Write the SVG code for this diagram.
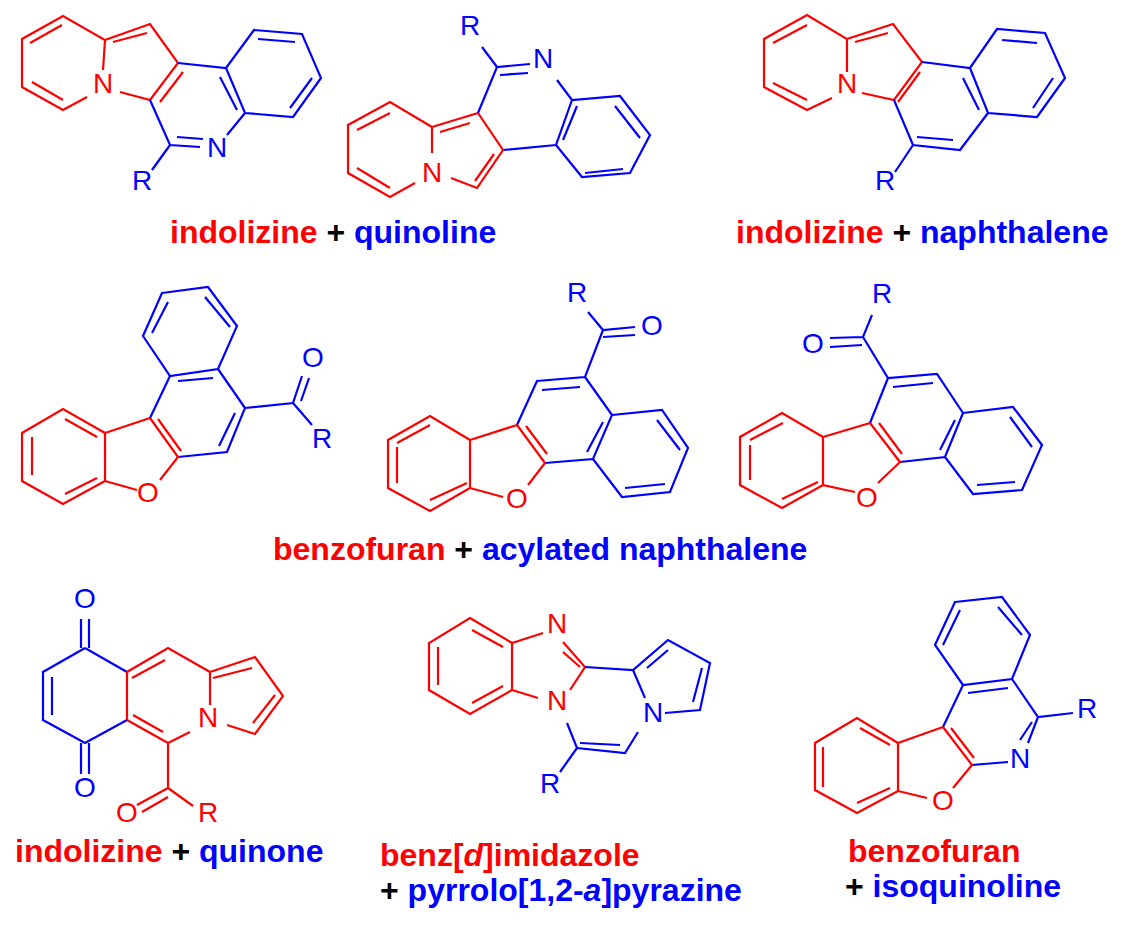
<svg xmlns="http://www.w3.org/2000/svg" width="1130" height="925" viewBox="0 0 1130 925">
<style>
.r{stroke:#ff0000;fill:none;stroke-width:2.2;stroke-linejoin:miter}
.b{stroke:#0000ff;fill:none;stroke-width:2.2;stroke-linejoin:miter}
.a{font-family:"Liberation Sans",Arial,sans-serif;font-size:28px;text-anchor:middle}
.rt{fill:#ff0000}.bt{fill:#0000ff}.kt{fill:#000}
.lab{font-family:"Liberation Sans",Arial,sans-serif;font-size:32px;font-weight:bold}
</style>
<rect width="1130" height="925" fill="#fff"/>
<g id="s1">
<path class="r" d="M87,97 L63,110 L22,87 L22,39 L63,16 L105,40 L103,70 M105,40 L150,24 L178,63 L150,100 L120,92 M30,43 L62,25 M32,82 L63,100 M113,42 L147,33 M183,72 L160,102"/>
<path class="b" d="M178,63 L226,68 L254,30 L302,34 L321,78 L293,117 L245,113 L226,68 M245,113 L227,135 M150,100 L170,145 L200,147 M170,145 L152,170 M177,137 L203,139 M220,77 L237,110 M258,39 L295,42 M312,78 L290,108"/>
<text class="a rt" x="103" y="93">N</text><text class="a bt" x="217" y="157">N</text><text class="a bt" x="142" y="190">R</text>
</g>
<g id="s2">
<path class="b" d="M482,47 L497,67 L530,64 M500,75 L528,73 M557,80 L572,100 L620,96 L650,135 L630,173 L582,177 L556,145 L572,100 M615,106 L640,138 M623,169 L585,173 M563,140 L577,106 M497,67 L478,113 M556,145 L503,150"/>
<path class="r" d="M478,113 L503,150 L477,188 L451,178 M432,153 L432,127 L478,113 M432,127 L390,102 L348,125 L348,173 L390,197 L415,183 M390,113 L357,130 M357,168 L390,188 M440,132 L470,123 M494,154 L475,181"/>
<text class="a bt" x="470" y="35">R</text><text class="a bt" x="543" y="68">N</text><text class="a rt" x="432" y="182">N</text>
</g>
<g id="s3">
<path class="r" d="M832,98 L807,110 L764,87 L764,39 L807,15 L847,39 L847,72 M847,39 L893,24 L922,62 L894,100 L862,93 M773,43 L807,25 M773,83 L807,100 M855,42 L888,33 M920,72 L898,102"/>
<path class="b" d="M922,62 L970,68 L997,29 L1045,33 L1065,78 L1037,117 L988,113 L970,68 M988,113 L960,150 L913,145 L894,100 M913,145 L895,172 M963,78 L979,110 M1002,40 L1037,43 M1053,78 L1033,108 M953,140 L917,137"/>
<text class="a rt" x="847" y="93">N</text><text class="a bt" x="885" y="190">R</text>
</g>
<g id="s4">
<path class="b" d="M162,293 L208,287 L237,326 L218,369 L170,376 L143,336 Z M218,369 L245,408 L227,452 L178,457 M170,376 L150,418 M168,302 L152,333 M205,297 L230,327 M178,381 L213,378 M235,413 L219,446 M245,408 L293,403 L302,376 M301,401 L309,378 M293,403 L312,425"/>
<path class="r" d="M150,418 L178,457 L160,480 M137,490 L105,481 L105,433 L150,418 M105,433 L63,409 L22,433 L22,481 L63,504 L105,481 M158,419 L181,451 M65,419 L97,437 M32,437 L32,475 M65,494 L97,478"/>
<text class="a bt" x="313" y="367">O</text><text class="a bt" x="322" y="448">R</text><text class="a rt" x="148" y="502">O</text>
</g>
<g id="s5">
<path class="b" d="M588,312 L603,330 L635,327 M603,337 L635,335 M603,330 L585,377 L537,381 L517,425 M545,463 L593,459 L612,415 L585,377 M612,415 L662,410 L688,448 L670,492 L622,497 L593,459 M580,387 L542,390 M603,422 L587,452 M657,420 L680,450 M665,484 L625,488"/>
<path class="r" d="M517,425 L545,463 L528,485 M503,497 L470,488 L470,440 L517,425 M470,440 L430,416 L388,440 L388,488 L430,511 L470,488 M526,426 L547,454 M430,425 L397,443 M397,447 L397,483 M430,500 L467,483"/>
<text class="a bt" x="577" y="302">R</text><text class="a bt" x="652" y="335">O</text><text class="a rt" x="517" y="508">O</text>
</g>
<g id="s6">
<path class="b" d="M872,315 L863,337 L830,338 M830,347 L862,345 M863,337 L888,378 L937,374 L963,413 L945,457 L900,462 M870,423 L888,378 M963,413 L1013,407 L1042,445 L1022,490 L973,494 L945,457 M893,387 L933,383 M955,420 L940,450 M1010,417 L1032,447 M1015,482 L977,485"/>
<path class="r" d="M870,423 L900,462 L878,483 M855,492 L823,485 L823,437 L870,423 M823,437 L782,413 L740,437 L740,485 L782,508 L823,485 M879,423 L902,454 M783,423 L750,440 M750,445 L750,480 M782,499 L818,482"/>
<text class="a bt" x="882" y="303">R</text><text class="a bt" x="813" y="353">O</text><text class="a rt" x="867" y="507">O</text>
</g>
<g id="s7">
<path class="b" d="M81,619 L81,648 M89,619 L89,648 M85,648 L43,672 L43,720 L85,743 L127,720 M127,672 L85,648 M52,677 L52,715 M81,743 L81,774 M89,743 L89,774"/>
<path class="r" d="M127,720 L127,672 L168,648 L210,672 L210,705 M190,732 L168,743 L127,720 M210,672 L255,657 L283,696 L255,734 L227,725 M132,678 L165,660 M133,715 L163,732 M213,678 L252,668 M275,695 L253,723 M168,743 L168,788 L137,805 M142,812 L168,797 M168,788 L193,806"/>
<text class="a bt" x="85" y="608">O</text><text class="a bt" x="85" y="797">O</text><text class="a rt" x="208" y="727">N</text><text class="a rt" x="127" y="822">O</text><text class="a rt" x="208" y="822">R</text>
</g>
<g id="s8">
<path class="r" d="M470,618 L512,643 L512,690 L470,714 L429,690 L429,643 Z M472,630 L503,647 M438,647 L438,685 M472,703 L503,686 M512,643 L543,633 M563,642 L585,667 L570,690 M563,652 L580,667 M512,690 L538,698"/>
<path class="b" d="M585,667 L633,670 L668,640 L710,663 L700,710 L665,713 M645,698 L633,670 M647,668 L668,650 M702,668 L693,702 M638,732 L625,753 L577,748 L567,723 M580,743 L620,745 M577,748 L560,772"/>
<text class="a rt" x="557" y="633">N</text><text class="a rt" x="557" y="710">N</text><text class="a bt" x="653" y="722">N</text><text class="a bt" x="550" y="793">R</text>
</g>
<g id="s9">
<path class="b" d="M955,602 L1002,597 L1030,635 L1012,679 L963,685 L935,645 Z M960,610 L943,645 M998,607 L1022,635 M968,693 L1008,688 M1012,679 L1038,717 L1073,713 M1038,717 L1028,743 M1020,740 L1032,722 M1008,762 L972,765 M963,685 L943,727"/>
<path class="r" d="M943,727 L972,765 L953,788 M927,798 L898,791 L898,743 L943,727 M898,743 L857,718 L815,743 L815,790 L857,813 L898,791 M951,728 L974,758 M860,728 L890,745 M823,747 L823,787 M857,803 L890,788"/>
<text class="a bt" x="1087" y="718">R</text><text class="a bt" x="1020" y="768">N</text><text class="a rt" x="943" y="810">O</text>
</g>
<g id="labels" class="lab">
<text x="170" y="243"><tspan class="rt">indolizine</tspan><tspan class="kt"> + </tspan><tspan class="bt">quinoline</tspan></text>
<text x="736" y="243"><tspan class="rt">indolizine</tspan><tspan class="kt"> + </tspan><tspan class="bt">naphthalene</tspan></text>
<text x="273" y="560"><tspan class="rt">benzofuran</tspan><tspan class="kt"> + </tspan><tspan class="bt">acylated naphthalene</tspan></text>
<text x="15" y="862"><tspan class="rt">indolizine</tspan><tspan class="kt"> + </tspan><tspan class="bt">quinone</tspan></text>
<text x="380" y="866" class="rt">benz[<tspan font-style="italic">d</tspan>]imidazole</text>
<text x="380" y="901"><tspan class="kt">+ </tspan><tspan class="bt">pyrrolo[1,2-<tspan font-style="italic">a</tspan>]pyrazine</tspan></text>
<text x="848" y="862" class="rt">benzofuran</text>
<text x="845" y="897"><tspan class="kt">+ </tspan><tspan class="bt">isoquinoline</tspan></text>
</g>
</svg>
